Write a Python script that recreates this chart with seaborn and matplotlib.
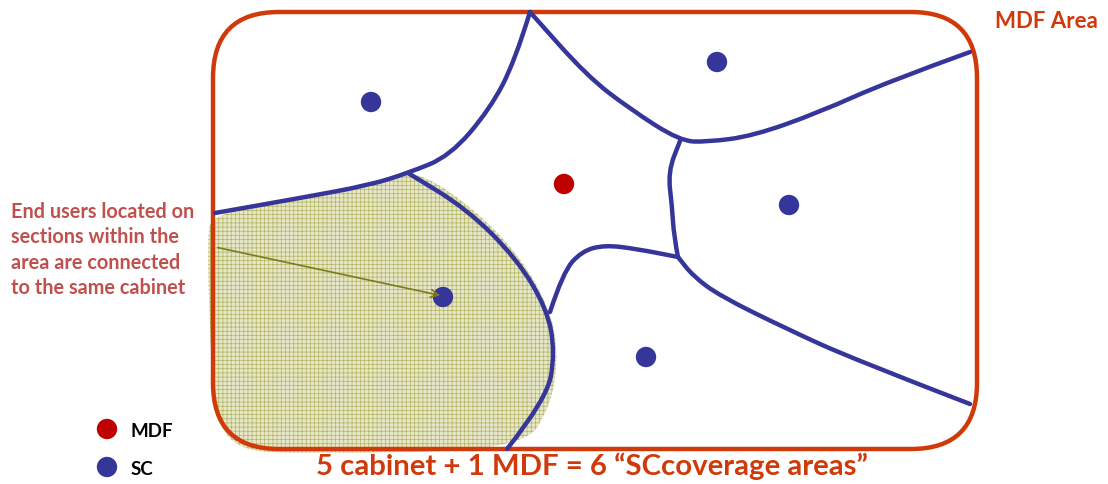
import numpy as np
import pandas as pd
import matplotlib.pyplot as plt
import seaborn as sns
from matplotlib.path import Path
from matplotlib.patches import PathPatch, FancyBboxPatch

sns.set_theme(style="white")
plt.rcParams['font.family'] = ['Lato', 'DejaVu Sans']
plt.rcParams['hatch.linewidth'] = 0.5

# site positions (image pixel coordinates, y grows downward)
sc_x = [371, 717, 789, 646, 443]
sc_y = [103, 63, 206, 358, 298]
mdf_x = [564]
mdf_y = [185]

# boundaries between the coverage areas
curve_top_left = [(215, 214), (300, 199), (370, 186), (408, 174), (450, 157),
                  (490, 110), (515, 62), (530, 13)]
curve_top = [(530, 13), (587, 77), (630, 110), (680, 142), (707, 143),
             (753, 137), (820, 113), (887, 83), (970, 53)]
curve_mid = [(680, 142), (668, 173), (672, 207), (674, 238), (678, 258)]
curve_low_right = [(678, 258), (693, 277), (720, 297), (787, 330),
                   (853, 360), (970, 405)]
curve_low_mid = [(678, 258), (637, 250), (605, 246), (582, 252),
                 (563, 273), (550, 313)]
curve_shaded = [(408, 174), (467, 210), (517, 260), (547, 310), (555, 353),
                (547, 400), (507, 450)]

# shaded area outline
shade_outline = [(212, 215), (300, 199), (370, 185), (412, 169), (470, 206),
                 (520, 257), (550, 310), (558, 353), (552, 405), (522, 452),
                 (300, 454), (240, 452), (214, 420), (210, 330), (207, 240)]

legend_labels = ["MDF", "SC"]
note_lines = ["End users located on", "sections within the",
              "area are connected", "to the same cabinet"]
title_text = "5 cabinet + 1 MDF = 6 \u201cSCcoverage areas\u201d"
area_text = "MDF Area"

BLUE = "#36369A"
RED = "#C00000"
ORANGE = "#D03A0A"
NOTE = "#C0504D"


def smooth_path(pts):
    # quadratic bezier chain through midpoints of the read points
    pts = np.asarray(pts, float)
    verts = [pts[0], (pts[0] + pts[1]) / 2]
    codes = [Path.MOVETO, Path.LINETO]
    for i in range(1, len(pts) - 1):
        verts.append(pts[i])
        verts.append((pts[i] + pts[i + 1]) / 2 if i < len(pts) - 2 else pts[i + 1])
        codes += [Path.CURVE3, Path.CURVE3]
    return Path(verts, codes)


def closed_smooth_path(pts):
    pts = np.asarray(pts, float)
    n = len(pts)
    verts = [(pts[0] + pts[1]) / 2]
    codes = [Path.MOVETO]
    for i in range(1, n + 1):
        verts.append(pts[i % n])
        verts.append((pts[i % n] + pts[(i + 1) % n]) / 2)
        codes += [Path.CURVE3, Path.CURVE3]
    verts.append(verts[0])
    codes.append(Path.CLOSEPOLY)
    return Path(verts, codes)


fig = plt.figure(figsize=(11.08, 4.85), dpi=100)
ax = fig.add_axes([0, 0, 1, 1])
ax.set_xlim(0, 1108)
ax.set_ylim(485, 0)
ax.axis("off")

# shaded coverage area
ax.add_patch(PathPatch(closed_smooth_path(shade_outline), facecolor="#E6E6C8",
                       edgecolor="#B4B466", hatch="++++", linewidth=0, zorder=1))

# MDF area border
ax.add_patch(FancyBboxPatch((213, 13), 977 - 213, 450 - 13,
                            boxstyle="round,pad=0,rounding_size=66",
                            facecolor="none", edgecolor=ORANGE, linewidth=3.2, zorder=2))

for c in [curve_top_left, curve_top, curve_mid, curve_low_right, curve_low_mid, curve_shaded]:
    ax.add_patch(PathPatch(smooth_path(c), facecolor="none", edgecolor=BLUE,
                           linewidth=3.2, capstyle="round", joinstyle="round", zorder=3))

sites = pd.DataFrame({
    "x": sc_x + mdf_x,
    "y": sc_y + mdf_y,
    "kind": ["SC"] * len(sc_x) + ["MDF"] * len(mdf_x),
})
sns.scatterplot(data=sites, x="x", y="y", hue="kind", palette={"SC": BLUE, "MDF": RED},
                s=215, linewidth=0, legend=False, ax=ax, zorder=4)

# legend drawn by hand
leg = pd.DataFrame({"x": [107, 107], "y": [430, 468], "kind": legend_labels})
sns.scatterplot(data=leg, x="x", y="y", hue="kind", palette={"SC": BLUE, "MDF": RED},
                s=215, linewidth=0, legend=False, ax=ax, zorder=4)
for lab, yy in zip(legend_labels, leg["y"]):
    ax.text(131, yy + 2, lab, fontsize=13.5, fontweight="bold", color="black",
            ha="left", va="center")

ax.annotate("", xy=(443, 297), xytext=(215, 248),
            arrowprops=dict(arrowstyle="->", color="#7C7C1C", lw=1.2,
                            mutation_scale=14), zorder=5)

for i, line in enumerate(note_lines):
    ax.text(11, 212 + i * 25.3, line, fontsize=14.3, fontweight="bold", color=NOTE,
            ha="left", va="center")

ax.text(995, 21, area_text, fontsize=16, fontweight="bold", color=ORANGE,
        ha="left", va="center")
ax.text(592, 466, title_text, fontsize=21.2, fontweight="bold", color=ORANGE,
        ha="center", va="center")

ax.set_xlabel("")
ax.set_ylabel("")
fig.savefig("out.png", dpi=100)
